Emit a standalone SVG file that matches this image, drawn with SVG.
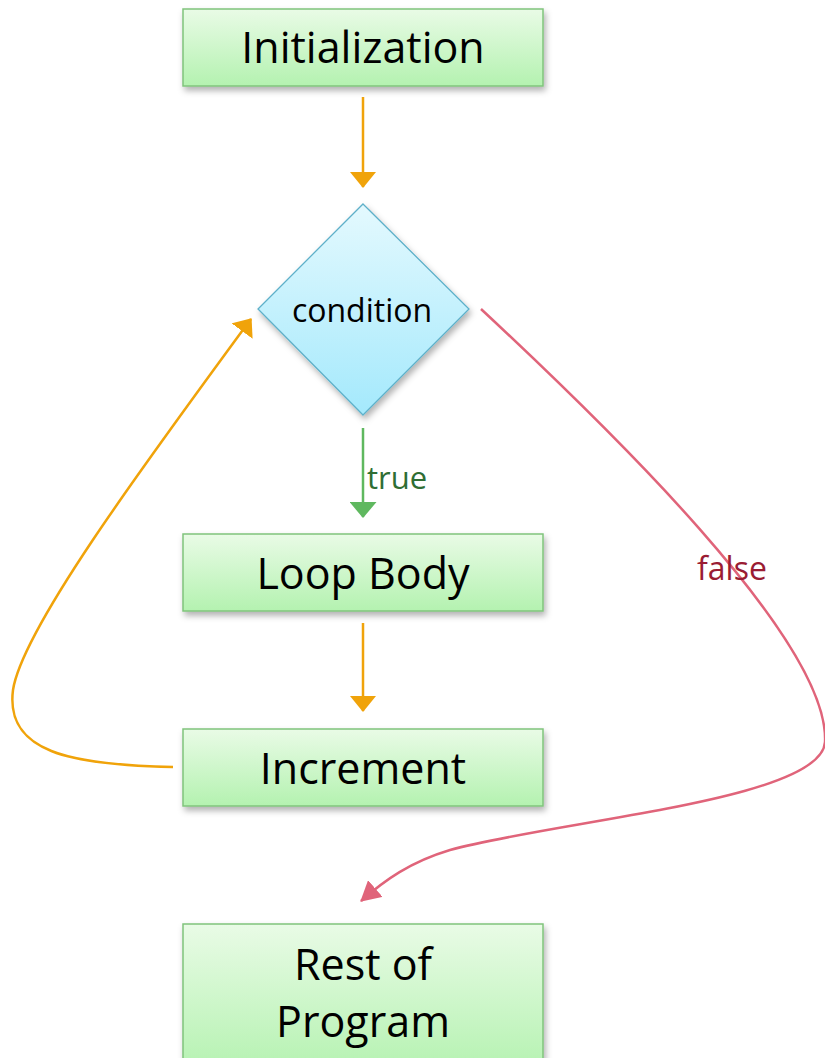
<svg xmlns="http://www.w3.org/2000/svg" width="825" height="1058" viewBox="0 0 825 1058">
<style>
.box{fill:url(#gG);stroke:#80c47c;stroke-width:1.5;filter:url(#sh)}
.lbl{font-family:"Open Sans","Liberation Sans",sans-serif;font-size:43px;fill:#000;text-anchor:middle}
.c{fill:none;stroke-width:2.5}
</style>
<defs>
<linearGradient id="gG" x1="0" y1="0" x2="0" y2="1"><stop offset="0" stop-color="#e9fbe6"/><stop offset="1" stop-color="#b4f2b0"/></linearGradient>
<linearGradient id="gB" x1="0" y1="0" x2="0" y2="1"><stop offset="0" stop-color="#e4f9fe"/><stop offset="1" stop-color="#a4e9fc"/></linearGradient>
<filter id="sh" x="-10%" y="-10%" width="125%" height="140%"><feDropShadow dx="2" dy="4" stdDeviation="3" flood-color="#000" flood-opacity="0.3"/></filter>
<marker id="aO" viewBox="0 0 16 26" refX="15" refY="13" markerWidth="16" markerHeight="26" markerUnits="userSpaceOnUse" orient="auto"><path d="M0,0 L16,13 L0,26 z" fill="#f0a30a"/></marker>
<marker id="aG" viewBox="0 0 16 27" refX="15" refY="13.5" markerWidth="16" markerHeight="27" markerUnits="userSpaceOnUse" orient="auto"><path d="M0,0 L16,13.5 L0,27 z" fill="#5fb85f"/></marker>
<marker id="aR" viewBox="0 0 20 22" refX="19" refY="11" markerWidth="20" markerHeight="22" markerUnits="userSpaceOnUse" orient="auto"><path d="M0,0 L20,11 L0,22 z" fill="#e0647a"/></marker>
</defs>
<g id="connectors">
<line class="c" x1="363" y1="97" x2="363" y2="187" stroke="#f0a30a" marker-end="url(#aO)"/>
<line class="c" x1="363" y1="428" x2="363" y2="517" stroke="#5fb85f" marker-end="url(#aG)"/>
<line class="c" x1="363" y1="623" x2="363" y2="711" stroke="#f0a30a" marker-end="url(#aO)"/>
<path class="c" d="M173,767 C70,765 5,752 13,690 C22,630 140,470 251,319" stroke="#f0a30a" marker-end="url(#aO)"/>
<path class="c" d="M481,309 C600,420 830,640 825,742 C822,800 560,820 450,850 C410,862 385,880 361,901" stroke="#e0647a" marker-end="url(#aR)"/>
<text x="367" y="489" font-family="'Open Sans','Liberation Sans',sans-serif" font-size="31" fill="#2f6e34">true</text>
<text x="697" y="580" font-family="'Open Sans','Liberation Sans',sans-serif" font-size="32" fill="#9a1c33">false</text>
</g>
<g id="init"><rect class="box" x="183" y="9" width="360" height="77"/><text class="lbl" x="363" y="63">Initialization</text></g>
<g id="condition"><path d="M363,204 L469,309 L363,415 L258,309 z" fill="url(#gB)" stroke="#5eb0c9" stroke-width="1.3" filter="url(#sh)"/><text x="362" y="322" font-family="'Open Sans','Liberation Sans',sans-serif" font-size="32" text-anchor="middle" fill="#000">condition</text></g>
<g id="body"><rect class="box" x="183" y="534" width="360" height="77"/><text class="lbl" x="363" y="589">Loop Body</text></g>
<g id="increment"><rect class="box" x="183" y="729" width="360" height="77"/><text class="lbl" x="363" y="784">Increment</text></g>
<g id="rest"><rect class="box" x="183" y="924" width="360" height="150"/><text class="lbl" x="363" y="980">Rest of</text><text class="lbl" x="363" y="1037">Program</text></g>
</svg>
